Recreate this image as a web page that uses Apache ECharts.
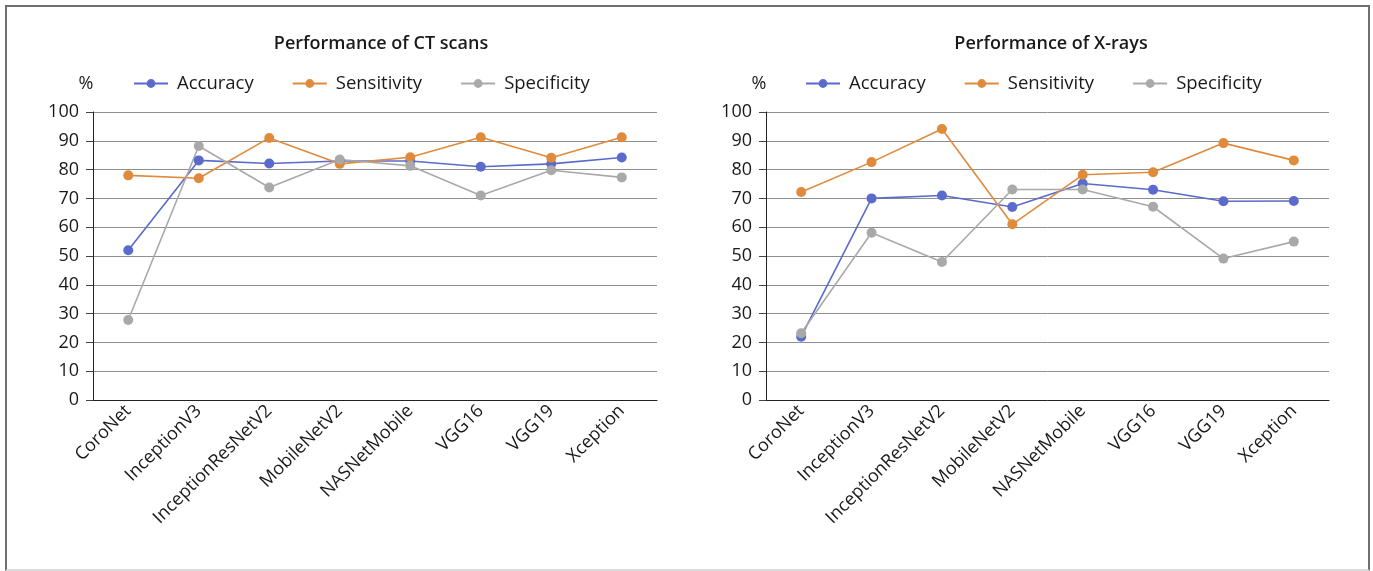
<!DOCTYPE html>
<html>
<head>
<meta charset="utf-8">
<script src="https://cdn.jsdelivr.net/npm/echarts@6/dist/echarts.min.js"></script>
<style>
  html, body { margin: 0; padding: 0; background: #fff; }
  #frame {
    position: absolute; left: 5px; top: 5px; width: 1361px; height: 562px;
    border: 2px solid #6e6e6e; border-bottom-color: #dcdcdc;
  }
  #chart { position: absolute; left: 0; top: 0; width: 1373px; height: 571px; }
</style>
</head>
<body>
<div id="frame"></div>
<div id="chart"></div>
<script>
// Categories (models)
const models = ['CoroNet', 'InceptionV3', 'InceptionResNetV2', 'MobileNetV2',
  'NASNetMobile', 'VGG16', 'VGG19', 'Xception'];
const yTicks = { min: 0, max: 100, interval: 10 };

// CT scans
const ctAccuracy    = [52, 83.2, 82.1, 83, 83, 81, 82, 84.2];
const ctSensitivity = [78, 77, 91, 82, 84.3, 91.2, 84.1, 91.2];
const ctSpecificity = [27.8, 88.2, 73.8, 83.5, 81.3, 71, 79.8, 77.3];

// X-rays
const xrAccuracy    = [22, 70, 71, 67, 75.2, 73, 69, 69.1];
const xrSensitivity = [72.2, 82.6, 94.1, 61, 78.2, 79.1, 89.2, 83.2];
const xrSpecificity = [23.2, 58.1, 47.9, 73.1, 73.1, 67.1, 49.1, 55];

const seriesNames = ['Accuracy', 'Sensitivity', 'Specificity'];
const colors = ['#5B6BCC', '#E08A3C', '#A9A9A9'];
const FONT = 'Open Sans';
const TEXT = '#1a1a1a';

const chart = echarts.init(document.getElementById('chart'));

function makeTitle(text, center) {
  return {
    text: text,
    left: center,
    top: 30,
    textAlign: 'center',
    textStyle: { fontFamily: FONT, fontSize: 18, fontWeight: 600, color: TEXT }
  };
}

function makeLegend(left) {
  return {
    data: seriesNames,
    left: left,
    top: 69,
    itemWidth: 34,
    itemHeight: 11,
    itemGap: 38,
    textStyle: { fontFamily: FONT, fontSize: 18.5, color: TEXT, padding: [0, 0, 0, 4] }
  };
}

function makeXAxis(gridIndex) {
  return {
    type: 'category',
    gridIndex: gridIndex,
    data: models,
    boundaryGap: true,
    axisLine: { lineStyle: { color: '#222', width: 1 } },
    axisTick: { alignWithLabel: true, length: 8, lineStyle: { color: '#444' } },
    axisLabel: { rotate: 45, fontFamily: FONT, fontSize: 18, color: TEXT, margin: 8, interval: 0 }
  };
}

function makeYAxis(gridIndex) {
  return {
    type: 'value',
    gridIndex: gridIndex,
    min: yTicks.min,
    max: yTicks.max,
    interval: yTicks.interval,
    name: '%',
    nameLocation: 'end',
    nameGap: 19,
    nameTextStyle: { fontFamily: FONT, fontSize: 18, color: TEXT, align: 'center', padding: [0, 14, 0, 0] },
    axisLine: { show: true, lineStyle: { color: '#222', width: 1 } },
    axisTick: { show: true, length: 7, lineStyle: { color: '#444' } },
    axisLabel: { fontFamily: FONT, fontSize: 18, color: TEXT, margin: 14 },
    splitLine: { lineStyle: { color: '#8f8f8f', width: 1 } }
  };
}

function makeSeries(name, data, color, idx) {
  return {
    name: name,
    type: 'line',
    xAxisIndex: idx,
    yAxisIndex: idx,
    data: data,
    symbol: 'circle',
    symbolSize: 10,
    lineStyle: { color: color, width: 1.6 },
    itemStyle: { color: color },
    emphasis: { disabled: true }
  };
}

chart.setOption({
  animation: false,
  color: colors,
  title: [
    makeTitle('Performance of CT scans', 376),
    makeTitle('Performance of X-rays', 1046)
  ],
  legend: [makeLegend(128), makeLegend(800)],
  grid: [
    { left: 93, top: 112, width: 564, height: 288 },
    { left: 766, top: 112, width: 563, height: 288 }
  ],
  xAxis: [makeXAxis(0), makeXAxis(1)],
  yAxis: [makeYAxis(0), makeYAxis(1)],
  series: [
    makeSeries('Accuracy', ctAccuracy, colors[0], 0),
    makeSeries('Sensitivity', ctSensitivity, colors[1], 0),
    makeSeries('Specificity', ctSpecificity, colors[2], 0),
    makeSeries('Accuracy', xrAccuracy, colors[0], 1),
    makeSeries('Sensitivity', xrSensitivity, colors[1], 1),
    makeSeries('Specificity', xrSpecificity, colors[2], 1)
  ]
});

window.addEventListener('resize', () => chart.resize());
</script>
</body>
</html>
